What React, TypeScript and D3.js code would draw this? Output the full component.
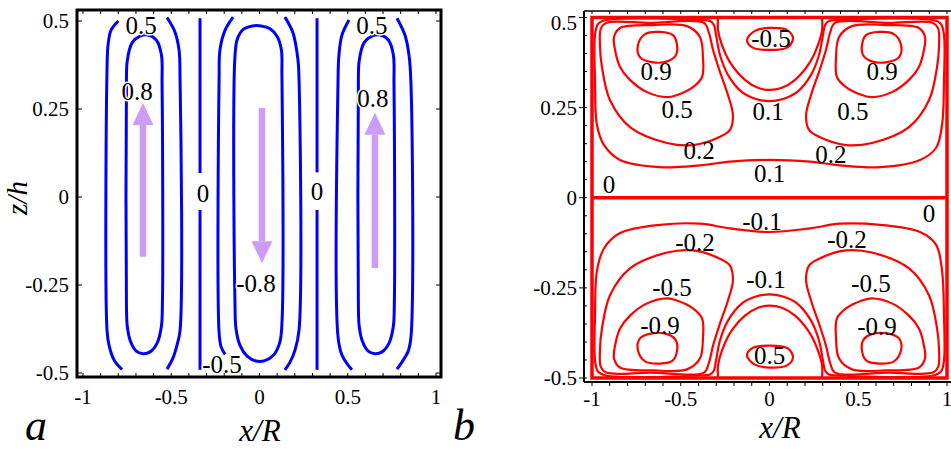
import { useEffect, useRef } from "react";
import * as d3 from "d3";

type Pt = [number, number];

// ---------- panel a (blue streamlines) ----------
const aTicksX = [-1, -0.5, 0, 0.5, 1];
const aTicksZ = [0.5, 0.25, 0, -0.25, -0.5];

// left cell, level 0.5 (two open branches)
const aLeftOuterL: Pt[] = [[-0.8, 0.5], [-0.841, 0.474], [-0.858, 0.432], [-0.864, 0.361], [-0.864, -0.378], [-0.853, -0.42], [-0.824, -0.463], [-0.779, -0.49]];
const aLeftOuterR: Pt[] = [[-0.524, 0.51], [-0.479, 0.469], [-0.456, 0.418], [-0.45, 0.332], [-0.45, -0.378], [-0.467, -0.42], [-0.49, -0.457], [-0.524, -0.489]];
// left cell, level 0.8 (closed)
const aLeftInner: Pt[] = [[-0.754, 0.3], [-0.749, 0.388], [-0.722, 0.438], [-0.677, 0.457], [-0.632, 0.46], [-0.585, 0.446], [-0.556, 0.405], [-0.552, 0.32], [-0.55, -0.3], [-0.556, -0.368], [-0.58, -0.415], [-0.62, -0.44], [-0.66, -0.445], [-0.7, -0.437], [-0.731, -0.41], [-0.749, -0.368], [-0.754, -0.3]];
// middle cell, level -0.5 (two open branches)
const aMidOuterL: Pt[] = [[-0.15, 0.511], [-0.195, 0.474], [-0.224, 0.418], [-0.229, 0.332], [-0.229, -0.385], [-0.218, -0.425], [-0.195, -0.447]];
const aMidOuterR: Pt[] = [[0.144, 0.511], [0.19, 0.466], [0.218, 0.389], [0.224, 0.332], [0.224, -0.378], [0.201, -0.435], [0.173, -0.469], [0.144, -0.491]];
// middle cell, level -0.8 (closed)
const aMidInner: Pt[] = [[-0.139, 0.4], [-0.125, 0.45], [-0.09, 0.477], [-0.04, 0.486], [0.01, 0.486], [0.06, 0.478], [0.1, 0.456], [0.124, 0.418], [0.127, 0.35], [0.127, -0.36], [0.115, -0.413], [0.08, -0.449], [0.03, -0.465], [-0.02, -0.466], [-0.07, -0.452], [-0.11, -0.422], [-0.133, -0.375], [-0.139, -0.3]];
// right cell, level 0.5 (two open branches)
const aRightOuterL: Pt[] = [[0.507, 0.503], [0.467, 0.46], [0.45, 0.403], [0.445, 0.332], [0.445, -0.398], [0.467, -0.449], [0.501, -0.477], [0.524, -0.491]];
const aRightOuterR: Pt[] = [[0.779, 0.508], [0.824, 0.46], [0.847, 0.403], [0.858, 0.324], [0.858, -0.398], [0.841, -0.44], [0.807, -0.469], [0.779, -0.489]];
// right cell, level 0.8 (closed)
const aRightInner: Pt[] = [[0.56, 0.3], [0.565, 0.388], [0.592, 0.438], [0.637, 0.457], [0.683, 0.46], [0.73, 0.446], [0.758, 0.405], [0.762, 0.32], [0.764, -0.3], [0.758, -0.368], [0.734, -0.415], [0.694, -0.44], [0.654, -0.445], [0.614, -0.437], [0.583, -0.41], [0.565, -0.368], [0.56, -0.3]];
// level 0 separatrices (with a gap for the label)
const aZeroL1: Pt[] = [[-0.337, 0.508], [-0.337, 0.068]];
const aZeroL2: Pt[] = [[-0.337, -0.037], [-0.337, -0.491]];
const aZeroR1: Pt[] = [[0.326, 0.508], [0.326, 0.07]];
const aZeroR2: Pt[] = [[0.326, -0.037], [0.326, -0.491]];

// flow arrows: x, tail z, tip z
const aArrowX = [-0.66, 0.014, 0.654];
const aArrowTail = [-0.17, 0.253, -0.202];
const aArrowTip = [0.267, -0.188, 0.239];

const aLabels = [
  { t: "0.5", x: -0.671, z: 0.486 },
  { t: "0.8", x: -0.694, z: 0.301 },
  { t: "0", x: -0.32, z: 0.011 },
  { t: "0.5", x: 0.637, z: 0.486 },
  { t: "0.8", x: 0.643, z: 0.281 },
  { t: "0", x: 0.326, z: 0.017 },
  { t: "-0.8", x: -0.02, z: -0.247 },
  { t: "-0.5", x: -0.212, z: -0.477 },
];

// ---------- panel b (red streamlines) ----------
const bTicksX = [-1, -0.5, 0, 0.5, 1];
const bTicksZ = [0.5, 0.25, 0, -0.25, -0.5];

// upper half
const bUp09L: Pt[] = [[-0.701, 0.454], [-0.617, 0.46], [-0.544, 0.451], [-0.521, 0.424], [-0.527, 0.396], [-0.572, 0.379], [-0.662, 0.376], [-0.73, 0.39], [-0.741, 0.424]];
const bUp09R: Pt[] = [[0.701, 0.454], [0.617, 0.46], [0.544, 0.451], [0.521, 0.424], [0.527, 0.396], [0.572, 0.379], [0.662, 0.376], [0.73, 0.39], [0.741, 0.424]];
const bUp05L: Pt[] = [[-0.876, 0.446], [-0.842, 0.471], [-0.656, 0.479], [-0.465, 0.476], [-0.392, 0.446], [-0.375, 0.39], [-0.38, 0.335], [-0.431, 0.307], [-0.521, 0.285], [-0.577, 0.279], [-0.69, 0.293], [-0.786, 0.327], [-0.842, 0.363], [-0.87, 0.41]];
const bUp05R: Pt[] = [[0.876, 0.446], [0.842, 0.471], [0.656, 0.479], [0.465, 0.476], [0.392, 0.446], [0.375, 0.39], [0.38, 0.335], [0.431, 0.307], [0.521, 0.285], [0.577, 0.279], [0.69, 0.293], [0.786, 0.327], [0.842, 0.363], [0.87, 0.41]];
const bUp02L: Pt[] = [[-0.921, 0.485], [-0.95, 0.47], [-0.955, 0.42], [-0.944, 0.363], [-0.899, 0.271], [-0.786, 0.196], [-0.577, 0.152], [-0.431, 0.146], [-0.279, 0.169], [-0.223, 0.188], [-0.206, 0.229], [-0.234, 0.285], [-0.279, 0.349], [-0.318, 0.41], [-0.341, 0.457], [-0.369, 0.485], [-0.673, 0.485]];
const bUp02R: Pt[] = [[0.921, 0.485], [0.95, 0.47], [0.955, 0.42], [0.944, 0.363], [0.899, 0.271], [0.786, 0.196], [0.577, 0.152], [0.431, 0.146], [0.279, 0.169], [0.223, 0.188], [0.206, 0.229], [0.234, 0.285], [0.279, 0.349], [0.318, 0.41], [0.341, 0.457], [0.369, 0.485], [0.673, 0.485]];
const bUp01: Pt[] = [[-0.972, 0.202], [-0.983, 0.327], [-0.983, 0.451], [-0.966, 0.482], [-0.921, 0.493], [-0.392, 0.493], [-0.335, 0.49], [-0.313, 0.479], [-0.301, 0.451], [-0.279, 0.396], [-0.234, 0.341], [-0.155, 0.293], [-0.076, 0.274], [0, 0.268], [0.076, 0.274], [0.155, 0.293], [0.234, 0.341], [0.279, 0.396], [0.301, 0.451], [0.313, 0.479], [0.335, 0.49], [0.392, 0.493], [0.921, 0.493], [0.966, 0.482], [0.983, 0.451], [0.983, 0.327], [0.972, 0.202], [0.938, 0.138], [0.848, 0.105], [0.623, 0.085], [0.397, 0.09], [0.228, 0.1], [0, 0.105], [-0.223, 0.1], [-0.392, 0.09], [-0.617, 0.085], [-0.842, 0.105], [-0.932, 0.146]];
const bUp00: Pt[] = [[-0.29, 0.499], [-0.29, 0.465], [-0.268, 0.424], [-0.223, 0.376], [-0.138, 0.327], [-0.065, 0.305], [0, 0.299], [0.07, 0.305], [0.144, 0.327], [0.228, 0.376], [0.273, 0.424], [0.296, 0.465], [0.296, 0.499]];
const bUpM05: Pt[] = [[-0.127, 0.438], [-0.082, 0.463], [0, 0.471], [0.099, 0.465], [0.132, 0.443], [0.104, 0.418], [0, 0.41], [-0.099, 0.418]];

// lower half
const bLo09L: Pt[] = [[-0.701, -0.454], [-0.617, -0.46], [-0.544, -0.451], [-0.521, -0.424], [-0.527, -0.396], [-0.572, -0.379], [-0.662, -0.376], [-0.73, -0.39], [-0.741, -0.424]];
const bLo09R: Pt[] = [[0.701, -0.454], [0.617, -0.46], [0.544, -0.451], [0.521, -0.424], [0.527, -0.396], [0.572, -0.379], [0.662, -0.376], [0.73, -0.39], [0.741, -0.424]];
const bLo05L: Pt[] = [[-0.876, -0.446], [-0.842, -0.471], [-0.656, -0.479], [-0.465, -0.476], [-0.392, -0.446], [-0.375, -0.39], [-0.38, -0.335], [-0.431, -0.307], [-0.521, -0.285], [-0.577, -0.279], [-0.69, -0.293], [-0.786, -0.327], [-0.842, -0.363], [-0.87, -0.41]];
const bLo05R: Pt[] = [[0.876, -0.446], [0.842, -0.471], [0.656, -0.479], [0.465, -0.476], [0.392, -0.446], [0.375, -0.39], [0.38, -0.335], [0.431, -0.307], [0.521, -0.285], [0.577, -0.279], [0.69, -0.293], [0.786, -0.327], [0.842, -0.363], [0.87, -0.41]];
const bLo02L: Pt[] = [[-0.921, -0.485], [-0.95, -0.47], [-0.955, -0.42], [-0.944, -0.363], [-0.899, -0.271], [-0.786, -0.196], [-0.577, -0.152], [-0.431, -0.146], [-0.279, -0.169], [-0.223, -0.188], [-0.206, -0.229], [-0.234, -0.285], [-0.279, -0.349], [-0.318, -0.41], [-0.341, -0.457], [-0.369, -0.485], [-0.673, -0.485]];
const bLo02R: Pt[] = [[0.921, -0.485], [0.95, -0.47], [0.955, -0.42], [0.944, -0.363], [0.899, -0.271], [0.786, -0.196], [0.577, -0.152], [0.431, -0.146], [0.279, -0.169], [0.223, -0.188], [0.206, -0.229], [0.234, -0.285], [0.279, -0.349], [0.318, -0.41], [0.341, -0.457], [0.369, -0.485], [0.673, -0.485]];
const bLo01: Pt[] = [[-0.972, -0.202], [-0.983, -0.327], [-0.983, -0.451], [-0.966, -0.482], [-0.921, -0.493], [-0.392, -0.493], [-0.335, -0.49], [-0.313, -0.479], [-0.301, -0.451], [-0.279, -0.396], [-0.234, -0.341], [-0.155, -0.293], [-0.076, -0.274], [0, -0.268], [0.076, -0.274], [0.155, -0.293], [0.234, -0.341], [0.279, -0.396], [0.301, -0.451], [0.313, -0.479], [0.335, -0.49], [0.392, -0.493], [0.921, -0.493], [0.966, -0.482], [0.983, -0.451], [0.983, -0.327], [0.972, -0.202], [0.938, -0.13], [0.848, -0.095], [0.623, -0.075], [0.397, -0.072], [0.228, -0.085], [0, -0.095], [-0.223, -0.085], [-0.392, -0.072], [-0.617, -0.075], [-0.842, -0.098], [-0.932, -0.14]];
const bLo00: Pt[] = [[-0.29, -0.499], [-0.29, -0.465], [-0.268, -0.424], [-0.223, -0.376], [-0.138, -0.327], [-0.065, -0.305], [0, -0.299], [0.07, -0.305], [0.144, -0.327], [0.228, -0.376], [0.273, -0.424], [0.296, -0.465], [0.296, -0.499]];
const bLoP05: Pt[] = [[-0.127, -0.438], [-0.082, -0.463], [0, -0.471], [0.099, -0.465], [0.132, -0.443], [0.104, -0.418], [0, -0.41], [-0.099, -0.418]];

const bLabels = [
  { t: "-0.5", x: 0.008, z: 0.443 },
  { t: "0.9", x: -0.639, z: 0.351 },
  { t: "0.9", x: 0.634, z: 0.349 },
  { t: "0.5", x: -0.521, z: 0.246 },
  { t: "0.5", x: 0.47, z: 0.238 },
  { t: "0.1", x: -0.008, z: 0.238 },
  { t: "0.2", x: -0.397, z: 0.13 },
  { t: "0.2", x: 0.346, z: 0.121 },
  { t: "0.1", x: 0, z: 0.066 },
  { t: "0", x: -0.904, z: 0.038 },
  { t: "-0.1", x: -0.042, z: -0.067 },
  { t: "-0.2", x: -0.42, z: -0.125 },
  { t: "-0.2", x: 0.437, z: -0.117 },
  { t: "-0.5", x: -0.549, z: -0.248 },
  { t: "-0.5", x: 0.572, z: -0.239 },
  { t: "-0.9", x: -0.617, z: -0.353 },
  { t: "-0.9", x: 0.606, z: -0.358 },
  { t: "-0.1", x: -0.02, z: -0.228 },
  { t: "0.5", x: 0, z: -0.437 },
  { t: "0", x: 0.898, z: -0.045 },
];

const FONT = "Liberation Serif, DejaVu Serif, serif";

export default function App() {
  const svgRef = useRef<SVGSVGElement>(null);

  useEffect(() => {
    const svg = d3.select(svgRef.current);
    svg.selectAll("*").remove();

    // ================= panel a =================
    const xA = d3.scaleLinear().domain([-1, 1]).range([83, 436]);
    const zA = d3.scaleLinear().domain([-0.5, 0.5]).range([373, 21]);
    const openA = d3.line<Pt>().x((d) => xA(d[0])).y((d) => zA(d[1])).curve(d3.curveCatmullRom.alpha(0.5));
    const loopA = d3.line<Pt>().x((d) => xA(d[0])).y((d) => zA(d[1])).curve(d3.curveCatmullRomClosed.alpha(0.5));

    const gA = svg.append("g");
    const openSetA = [aLeftOuterL, aLeftOuterR, aMidOuterL, aMidOuterR, aRightOuterL, aRightOuterR, aZeroL1, aZeroL2, aZeroR1, aZeroR2];
    const loopSetA = [aLeftInner, aMidInner, aRightInner];

    gA.selectAll(".openA").data(openSetA).join("path")
      .attr("d", (d) => openA(d))
      .attr("fill", "none").attr("stroke", "#0000ff").attr("stroke-width", 3);
    gA.selectAll(".loopA").data(loopSetA).join("path")
      .attr("d", (d) => loopA(d))
      .attr("fill", "none").attr("stroke", "#0000ff").attr("stroke-width", 3);

    // arrows
    const arrowCol = "#cc9cf8";
    aArrowX.forEach((x, i) => {
      const px = xA(x);
      const tail = zA(aArrowTail[i]);
      const tip = zA(aArrowTip[i]);
      const dir = tip < tail ? -1 : 1;
      const base = tip - dir * 22;
      gA.append("line")
        .attr("x1", px).attr("x2", px)
        .attr("y1", tail).attr("y2", base)
        .attr("stroke", arrowCol).attr("stroke-width", 6.5);
      gA.append("path")
        .attr("d", `M${px},${tip} L${px - 10.5},${base} L${px + 10.5},${base} Z`)
        .attr("fill", arrowCol);
    });

    // labels
    gA.selectAll(".labA").data(aLabels).join("text")
      .attr("x", (d) => xA(d.x)).attr("y", (d) => zA(d.z))
      .attr("text-anchor", "middle").attr("dominant-baseline", "central")
      .style("font-family", FONT).attr("font-size", 25)
      .attr("stroke", "#fff").attr("stroke-width", 3).attr("paint-order", "stroke")
      .text((d) => d.t);

    // frame
    gA.append("rect")
      .attr("x", 77).attr("y", 10).attr("width", 364).attr("height", 367)
      .attr("fill", "none").attr("stroke", "#000").attr("stroke-width", 3);

    const minorX = d3.range(-10, 11).map((i) => i / 10);
    minorX.forEach((v) => {
      gA.append("line").attr("x1", xA(v)).attr("x2", xA(v)).attr("y1", 377).attr("y2", 373)
        .attr("stroke", "#000").attr("stroke-width", 1);
      gA.append("line").attr("x1", xA(v)).attr("x2", xA(v)).attr("y1", 10).attr("y2", 14)
        .attr("stroke", "#000").attr("stroke-width", 1);
    });
    aTicksZ.forEach((v) => {
      gA.append("line").attr("x1", 77).attr("x2", 82).attr("y1", zA(v)).attr("y2", zA(v))
        .attr("stroke", "#000").attr("stroke-width", 1);
      gA.append("line").attr("x1", 441).attr("x2", 436).attr("y1", zA(v)).attr("y2", zA(v))
        .attr("stroke", "#000").attr("stroke-width", 1);
    });

    gA.selectAll(".txA").data(aTicksX).join("text")
      .attr("x", (d) => xA(d)).attr("y", 397)
      .attr("text-anchor", "middle").attr("dominant-baseline", "central")
      .style("font-family", FONT).attr("font-size", 21)
      .text((d) => String(d));
    gA.selectAll(".tzA").data(aTicksZ).join("text")
      .attr("x", 69).attr("y", (d) => zA(d))
      .attr("text-anchor", "end").attr("dominant-baseline", "central")
      .style("font-family", FONT).attr("font-size", 21)
      .text((d) => String(d));

    gA.append("text")
      .attr("transform", "translate(27,198) rotate(-90)")
      .attr("text-anchor", "middle")
      .style("font-family", FONT).attr("font-style", "italic").attr("font-size", 29)
      .text("z/h");
    gA.append("text")
      .attr("x", 260).attr("y", 441)
      .attr("text-anchor", "middle")
      .style("font-family", FONT).attr("font-style", "italic").attr("font-size", 31)
      .text("x/R");
    gA.append("text")
      .attr("x", 36).attr("y", 440)
      .attr("text-anchor", "middle")
      .style("font-family", FONT).attr("font-style", "italic").attr("font-size", 44)
      .text("a");

    // ================= panel b =================
    const xB = d3.scaleLinear().domain([-1, 1]).range([592, 947]);
    const zB = d3.scaleLinear().domain([-0.5, 0.5]).range([378, 17.5]);
    const openB = d3.line<Pt>().x((d) => xB(d[0])).y((d) => zB(d[1])).curve(d3.curveCatmullRom.alpha(0.5));
    const loopB = d3.line<Pt>().x((d) => xB(d[0])).y((d) => zB(d[1])).curve(d3.curveCatmullRomClosed.alpha(0.5));

    const gB = svg.append("g");

    // black axes
    gB.append("line").attr("x1", 584).attr("x2", 584).attr("y1", 11).attr("y2", 382)
      .attr("stroke", "#000").attr("stroke-width", 2);
    gB.append("line").attr("x1", 584).attr("x2", 951).attr("y1", 382).attr("y2", 382)
      .attr("stroke", "#000").attr("stroke-width", 2);
    gB.append("line").attr("x1", 584).attr("x2", 951).attr("y1", 11).attr("y2", 11)
      .attr("stroke", "#000").attr("stroke-width", 1.5);
    minorX.forEach((v) => {
      gB.append("line").attr("x1", xB(v)).attr("x2", xB(v)).attr("y1", 382).attr("y2", 386)
        .attr("stroke", "#000").attr("stroke-width", 1);
      gB.append("line").attr("x1", xB(v)).attr("x2", xB(v)).attr("y1", 11).attr("y2", 14)
        .attr("stroke", "#000").attr("stroke-width", 1);
    });
    d3.range(-10, 11).map((i) => i / 20).forEach((v) => {
      gB.append("line").attr("x1", 584).attr("x2", 587).attr("y1", zB(v)).attr("y2", zB(v))
        .attr("stroke", "#000").attr("stroke-width", 1);
    });
    bTicksZ.forEach((v) => {
      gB.append("line").attr("x1", 584).attr("x2", 579).attr("y1", zB(v)).attr("y2", zB(v))
        .attr("stroke", "#000").attr("stroke-width", 1);
    });

    gB.selectAll(".txB").data(bTicksX).join("text")
      .attr("x", (d) => xB(d)).attr("y", 399)
      .attr("text-anchor", "middle").attr("dominant-baseline", "central")
      .style("font-family", FONT).attr("font-size", 21)
      .text((d) => String(d));
    gB.selectAll(".tzB").data(bTicksZ).join("text")
      .attr("x", 577).attr("y", (d) => zB(d) + (d === 0.5 ? 5 : 0))
      .attr("text-anchor", "end").attr("dominant-baseline", "central")
      .style("font-family", FONT).attr("font-size", 21)
      .text((d) => String(d));

    // walls (psi = 0)
    gB.append("rect")
      .attr("x", xB(-1)).attr("y", zB(0.5))
      .attr("width", xB(1) - xB(-1)).attr("height", zB(-0.5) - zB(0.5))
      .attr("fill", "none").attr("stroke", "#ff0000").attr("stroke-width", 3.5);
    gB.append("line")
      .attr("x1", xB(-1)).attr("x2", xB(1)).attr("y1", zB(0)).attr("y2", zB(0))
      .attr("stroke", "#ff0000").attr("stroke-width", 3.5);

    const loopSetB = [bUp09L, bUp09R, bUp05L, bUp05R, bUp02L, bUp02R, bUp01, bUpM05,
      bLo09L, bLo09R, bLo05L, bLo05R, bLo02L, bLo02R, bLo01, bLoP05];
    const openSetB = [bUp00, bLo00];
    gB.selectAll(".loopB").data(loopSetB).join("path")
      .attr("d", (d) => loopB(d))
      .attr("fill", "none").attr("stroke", "#ff0000").attr("stroke-width", 2.2);
    gB.selectAll(".openB").data(openSetB).join("path")
      .attr("d", (d) => openB(d))
      .attr("fill", "none").attr("stroke", "#ff0000").attr("stroke-width", 2.2);

    gB.selectAll(".labB").data(bLabels).join("text")
      .attr("x", (d) => xB(d.x)).attr("y", (d) => zB(d.z))
      .attr("text-anchor", "middle").attr("dominant-baseline", "central")
      .style("font-family", FONT).attr("font-size", 25)
      .text((d) => d.t);

    gB.append("text")
      .attr("x", 780).attr("y", 438)
      .attr("text-anchor", "middle")
      .style("font-family", FONT).attr("font-style", "italic").attr("font-size", 31)
      .text("x/R");
    gB.append("text")
      .attr("x", 464).attr("y", 440)
      .attr("text-anchor", "middle")
      .style("font-family", FONT).attr("font-style", "italic").attr("font-size", 44)
      .text("b");
  }, []);

  return (
    <svg
      ref={svgRef}
      width={951}
      height={457}
      style={{ position: "absolute", left: 0, top: 0, background: "#fff" }}
    />
  );
}
